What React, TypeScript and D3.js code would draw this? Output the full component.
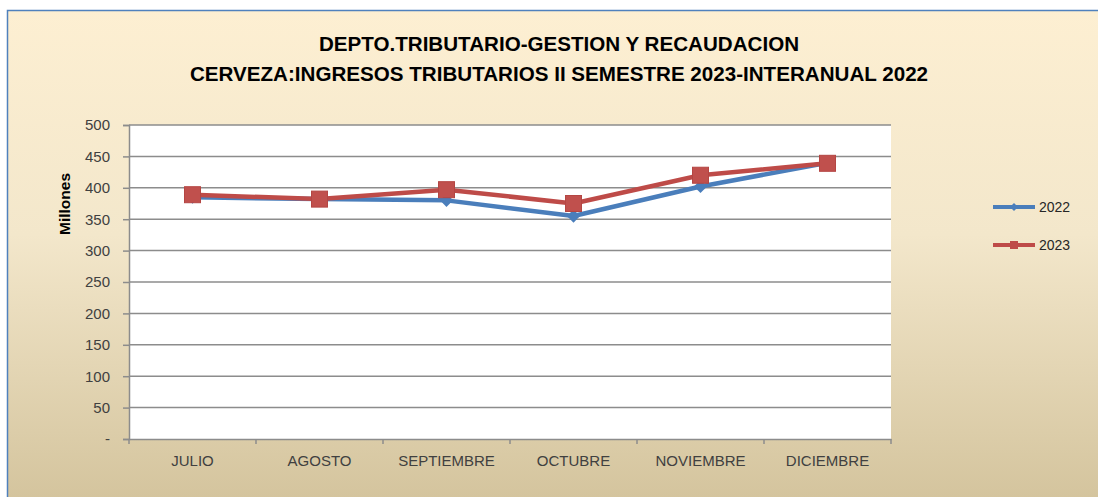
import React, { useEffect, useRef } from 'react';
import * as d3 from 'd3';

const months = ['JULIO', 'AGOSTO', 'SEPTIEMBRE', 'OCTUBRE', 'NOVIEMBRE', 'DICIEMBRE'];
const values2022 = [385, 382, 380, 355, 402, 440];
const values2023 = [389, 382, 397, 375, 420, 439];
const yTicks = [0, 50, 100, 150, 200, 250, 300, 350, 400, 450, 500];
const titleLines = [
  'DEPTO.TRIBUTARIO-GESTION Y RECAUDACION',
  'CERVEZA:INGRESOS TRIBUTARIOS II SEMESTRE 2023-INTERANUAL 2022'
];

const WIDTH = 1098;
const HEIGHT = 497;
const FONT = "'Liberation Sans', Arial, sans-serif";

export default function App() {
  const ref = useRef<SVGSVGElement>(null);

  useEffect(() => {
    const svg = d3.select(ref.current);
    svg.selectAll('*').remove();

    // background gradient
    const defs = svg.append('defs');
    const grad = defs.append('linearGradient')
      .attr('id', 'bg')
      .attr('x1', 0).attr('y1', 0).attr('x2', 0).attr('y2', 1);
    grad.append('stop').attr('offset', '0%').attr('stop-color', '#fdefd2');
    grad.append('stop').attr('offset', '45%').attr('stop-color', '#f3e7cb');
    grad.append('stop').attr('offset', '100%').attr('stop-color', '#d3c39c');

    svg.append('rect')
      .attr('width', WIDTH).attr('height', HEIGHT)
      .attr('fill', '#ffffff');
    svg.append('rect')
      .attr('x', 7.5).attr('y', 10.5)
      .attr('width', WIDTH).attr('height', HEIGHT)
      .attr('fill', 'url(#bg)')
      .attr('stroke', '#4f81bd')
      .attr('stroke-width', 1.5);

    const plot = { left: 129, right: 891, top: 125, bottom: 439 };

    const x = d3.scaleBand()
      .domain(months)
      .range([plot.left, plot.right]);

    const y = d3.scaleLinear()
      .domain([0, 500])
      .range([plot.bottom, plot.top]);

    svg.append('rect')
      .attr('x', plot.left).attr('y', plot.top)
      .attr('width', plot.right - plot.left)
      .attr('height', plot.bottom - plot.top)
      .attr('fill', '#ffffff');

    // gridlines
    svg.append('g')
      .selectAll('line')
      .data(yTicks.filter(t => t > 0))
      .enter()
      .append('line')
      .attr('x1', plot.left).attr('x2', plot.right)
      .attr('y1', d => y(d)).attr('y2', d => y(d))
      .attr('stroke', '#8c8c8c')
      .attr('stroke-width', 1.5);

    // y axis
    const yAxis = svg.append('g')
      .attr('transform', `translate(${plot.left},0)`)
      .call(d3.axisLeft(y)
        .tickValues(yTicks)
        .tickSize(6)
        .tickPadding(13)
        .tickFormat(d => (d === 0 ? '-' : String(d))));
    yAxis.selectAll('path, line').attr('stroke', '#8c8c8c').attr('stroke-width', 1.5);
    yAxis.selectAll('text')
      .attr('font-family', FONT)
      .attr('font-size', 15)
      .attr('fill', '#404040');

    // x axis
    const xAxis = svg.append('g')
      .attr('transform', `translate(0,${plot.bottom})`)
      .call(d3.axisBottom(x).tickSize(0).tickPadding(16));
    xAxis.select('path').attr('stroke', '#8c8c8c').attr('stroke-width', 1.5);
    xAxis.selectAll('text')
      .attr('font-family', FONT)
      .attr('font-size', 15)
      .attr('fill', '#404040');
    // ticks between categories
    svg.append('g')
      .selectAll('line')
      .data(months.map(m => x(m) as number).concat([plot.right]))
      .enter()
      .append('line')
      .attr('x1', d => d).attr('x2', d => d)
      .attr('y1', plot.bottom).attr('y2', plot.bottom + 5)
      .attr('stroke', '#8c8c8c')
      .attr('stroke-width', 1.5);

    const cx = (m: string) => (x(m) as number) + x.bandwidth() / 2;

    const line = d3.line<number>()
      .x((d, i) => cx(months[i]))
      .y(d => y(d));

    // 2022 series
    svg.append('path')
      .datum(values2022)
      .attr('fill', 'none')
      .attr('stroke', '#4a7ebb')
      .attr('stroke-width', 4.5)
      .attr('stroke-linejoin', 'round')
      .attr('d', line);
    svg.append('g')
      .selectAll('path')
      .data(values2022)
      .enter()
      .append('path')
      .attr('d', d3.symbol().type(d3.symbolDiamond2).size(110))
      .attr('transform', (d, i) => `translate(${cx(months[i])},${y(d)})`)
      .attr('fill', '#4a7ebb');

    // 2023 series
    svg.append('path')
      .datum(values2023)
      .attr('fill', 'none')
      .attr('stroke', '#be4b48')
      .attr('stroke-width', 4.5)
      .attr('stroke-linejoin', 'round')
      .attr('d', line);
    svg.append('g')
      .selectAll('rect')
      .data(values2023)
      .enter()
      .append('rect')
      .attr('x', (d, i) => cx(months[i]) - 8)
      .attr('y', d => y(d) - 8)
      .attr('width', 16).attr('height', 16)
      .attr('fill', '#c0504d')
      .attr('stroke', '#b44643')
      .attr('stroke-width', 1);

    // y label
    svg.append('text')
      .attr('transform', 'translate(70,204) rotate(-90)')
      .attr('text-anchor', 'middle')
      .attr('font-family', FONT)
      .attr('font-weight', 'bold')
      .attr('font-size', 15.5)
      .attr('fill', '#000')
      .text('Millones');

    // title
    svg.append('g')
      .selectAll('text')
      .data(titleLines)
      .enter()
      .append('text')
      .attr('x', 559)
      .attr('y', (d, i) => 51 + i * 30)
      .attr('text-anchor', 'middle')
      .attr('font-family', FONT)
      .attr('font-weight', 'bold')
      .attr('font-size', 20.6)
      .attr('fill', '#000')
      .text(d => d);

    // legend
    const legend = [
      { name: '2022', color: '#4a7ebb', square: false },
      { name: '2023', color: '#be4b48', square: true }
    ];
    const lg = svg.append('g')
      .selectAll('g')
      .data(legend)
      .enter()
      .append('g')
      .attr('transform', (d, i) => `translate(993,${207 + i * 38})`);
    lg.append('line')
      .attr('x1', 0).attr('x2', 42)
      .attr('stroke', d => d.color)
      .attr('stroke-width', 4);
    lg.append('path')
      .filter(d => !d.square)
      .attr('d', d3.symbol().type(d3.symbolDiamond2).size(40))
      .attr('transform', 'translate(21,0)')
      .attr('fill', d => d.color);
    lg.filter(d => d.square)
      .append('rect')
      .attr('x', 17).attr('y', -4)
      .attr('width', 8).attr('height', 8)
      .attr('fill', d => d.color);
    lg.append('text')
      .attr('x', 46)
      .attr('dy', '0.35em')
      .attr('font-family', FONT)
      .attr('font-size', 14)
      .attr('fill', '#262626')
      .text(d => d.name);
  }, []);

  return (
    <svg
      ref={ref}
      width={WIDTH}
      height={HEIGHT}
      style={{ position: 'absolute', left: 0, top: 0, display: 'block' }}
    />
  );
}
